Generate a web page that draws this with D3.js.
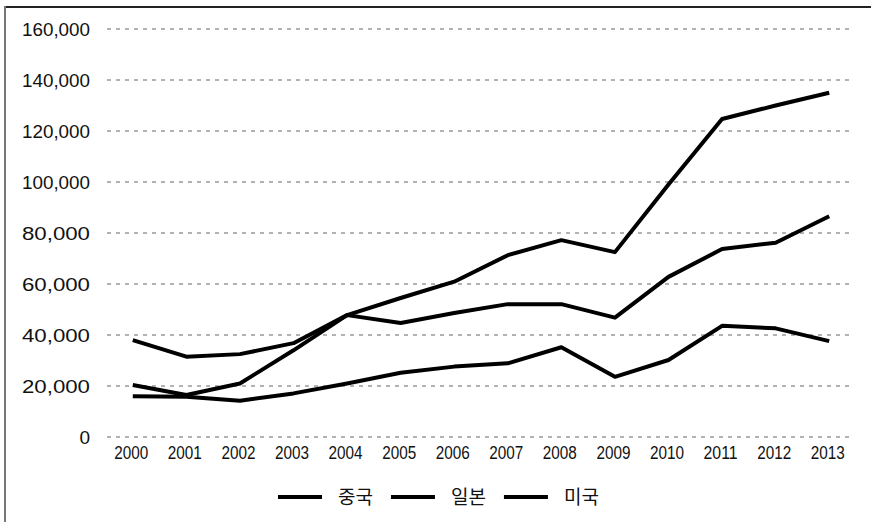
<!DOCTYPE html>
<html>
<head>
<meta charset="utf-8">
<script src="https://cdn.jsdelivr.net/npm/d3@7/dist/d3.min.js"></script>
<style>
  body { margin: 0; background: #fff; }
  svg { display: block; }
  .tick-label { font-family: "Liberation Sans", Arial, sans-serif; fill: #111; }
  .legend-label { font-family: "Noto Sans CJK KR", sans-serif; font-size: 19px; fill: #111; }
</style>
</head>
<body>
<svg id="chart" width="871" height="522"></svg>
<script>
const years = ['2000', '2001', '2002', '2003', '2004', '2005', '2006',
  '2007', '2008', '2009', '2010', '2011', '2012', '2013'];
const yTicks = [0, 20000, 40000, 60000, 80000, 100000, 120000, 140000, 160000];
const seriesNames = ['중국', '일본', '미국'];

// thousands rounded
const china = [20400, 16500, 21000, 34000, 47800, 54500, 60900, 71300, 77200, 72500, 99000, 124700, 130000, 135000];
const japan = [16000, 15800, 14200, 17100, 21000, 25200, 27600, 28900, 35200, 23600, 30200, 43600, 42600, 37600];
const usa = [38000, 31500, 32500, 36800, 47800, 44700, 48600, 52100, 52100, 46800, 62800, 73700, 76200, 86600];

const seriesValues = [china, japan, usa];

const svg = d3.select('#chart');

// frame: only top and left edges are visible
svg.append('line')
  .attr('x1', 4).attr('x2', 871).attr('y1', 7).attr('y2', 7)
  .attr('stroke', '#222').attr('stroke-width', 2);
svg.append('line')
  .attr('x1', 5).attr('x2', 5).attr('y1', 6).attr('y2', 522)
  .attr('stroke', '#777').attr('stroke-width', 2);

const x = d3.scalePoint()
  .domain(years)
  .range([106, 856])
  .padding(0.5);

const y = d3.scaleLinear()
  .domain([0, 160000])
  .range([437, 29]);

const fmt = d3.format(',');

// horizontal dashed grid
svg.append('g')
  .selectAll('line')
  .data(yTicks)
  .join('line')
  .attr('x1', 107)
  .attr('x2', 853)
  .attr('y1', d => y(d))
  .attr('y2', d => y(d))
  .attr('stroke', '#666')
  .attr('stroke-width', 1)
  .attr('stroke-dasharray', '4 5');

// y labels (narrow, tall glyphs like the original)
const yAxis = svg.append('g')
  .attr('transform', 'translate(90,0)')
  .call(d3.axisLeft(y).tickValues(yTicks).tickFormat(fmt).tickSize(0).tickPadding(0));
yAxis.select('.domain').remove();
yAxis.selectAll('text')
  .attr('class', 'tick-label')
  .attr('font-size', 19)
  .attr('fill', '#111')
  .attr('textLength', d => d === 0 ? null : 68)
  .attr('lengthAdjust', 'spacingAndGlyphs');

// x labels
const xAxis = svg.append('g')
  .attr('transform', 'translate(-2,446)')
  .call(d3.axisBottom(x).tickSize(0).tickPadding(0));
xAxis.select('.domain').remove();
xAxis.selectAll('text')
  .attr('class', 'tick-label')
  .attr('font-size', 18)
  .attr('fill', '#111')
  .attr('textLength', 34)
  .attr('lengthAdjust', 'spacingAndGlyphs');

const line = d3.line()
  .x((d, i) => x(years[i]))
  .y(d => y(d));

svg.append('g')
  .selectAll('path')
  .data(seriesValues)
  .join('path')
  .attr('d', line)
  .attr('fill', 'none')
  .attr('stroke', '#000')
  .attr('stroke-width', 4)
  .attr('stroke-linejoin', 'round');

// legend
const legend = svg.append('g').attr('transform', 'translate(278,497)');
let lx = 0;
seriesNames.forEach(name => {
  legend.append('line')
    .attr('x1', lx).attr('x2', lx + 44)
    .attr('stroke', '#000').attr('stroke-width', 4);
  const t = legend.append('text')
    .attr('class', 'legend-label')
    .attr('x', lx + 60)
    .attr('dy', '0.35em')
    .text(name);
  lx += 60 + t.node().getComputedTextLength() + 18;
});
</script>
</body>
</html>
